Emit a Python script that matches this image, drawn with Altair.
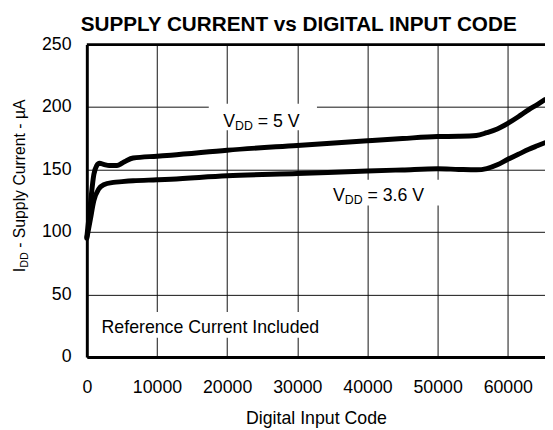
import altair as alt
import pandas as pd

FONT = "Liberation Sans"

# ---- data ----
codes_5v = [0, 500, 1000, 1400, 1800, 2500, 3200, 4300, 5000, 5700, 6600, 10000, 12000,
            20000, 30000, 40000, 45000, 50000, 53000, 55500, 57000, 58500, 60000,
            61500, 63000, 64200, 65300]
current_5v = [96, 122, 146, 153, 155, 154, 153.3, 153.2, 155, 157.3, 159.2, 160.7, 161.5,
              165.5, 169.3, 173, 174.8, 176.4, 176.6, 177.2, 179.5, 182.5, 187,
              192.3, 198, 202, 206]

codes_36v = [0, 500, 1000, 1700, 2400, 3800, 5000, 6600, 10000, 12000, 20000, 30000,
             40000, 45000, 50000, 53000, 55500, 57000, 58500, 60000, 61500, 63000,
             64200, 65300]
current_36v = [95, 110, 125, 134.4, 137.8, 139.7, 140.3, 141, 141.8, 142.3, 145, 146.8,
               148.8, 149.7, 150.6, 150.1, 149.8, 150.8, 153.8, 158.2, 162.2, 166.2,
               169, 171.5]

x_ticks = [0, 10000, 20000, 30000, 40000, 50000, 60000]
y_ticks = [0, 50, 100, 150, 200, 250]

title_text = "SUPPLY CURRENT vs DIGITAL INPUT CODE"
x_title = "Digital Input Code"
y_title_main = "I"
y_title_sub = "DD"
y_title_rest = "- Supply Current - µA"

# annotation boxes (data coordinates)
box_x1 = [17380, 34200, 980]
box_x2 = [32800, 50300, 35300]
box_y1 = [181.4, 121.3, 15.4]
box_y2 = [202.6, 141.8, 35.9]

# annotation texts (data coordinates of text start / baseline)
lab5_x, lab5_y = 19440, 184.4
lab36_x, lab36_y = 35080, 125.2
ref_x, ref_y = 2100, 19.4
lab5_rest = "= 5 V"
lab36_rest = "= 3.6 V"
ref_text = "Reference Current Included"

# ---- build ----
lines_df = pd.concat([
    pd.DataFrame({"x": codes_5v, "y": current_5v, "series": "VDD = 5 V"}),
    pd.DataFrame({"x": codes_36v, "y": current_36v, "series": "VDD = 3.6 V"}),
])
boxes_df = pd.DataFrame({"x": box_x1, "x2": box_x2, "y": box_y1, "y2": box_y2})

xscale = alt.Scale(domain=[0, 65300], nice=False, zero=False)
yscale = alt.Scale(domain=[0, 250], nice=False, zero=False)

xaxis = alt.Axis(values=x_ticks, grid=True, ticks=False, labelPadding=22,
                 labelFontSize=18, labelFont=FONT, labelColor="black",
                 labelFlush=False, labelOverlap=False, format="d",
                 domainColor="black", domainWidth=3,
                 gridColor="#111111", gridWidth=1,
                 title=x_title, titleFont=FONT, titleFontSize=18,
                 titleFontWeight="normal", titleColor="black",
                 titleBaseline="alphabetic", titleY=68)
yaxis = alt.Axis(values=y_ticks, grid=True, ticks=False, labelPadding=16,
                 labelFontSize=18, labelFont=FONT, labelColor="black",
                 labelFlush=False, labelOverlap=False,
                 domainColor="black", domainWidth=3,
                 gridColor="#111111", gridWidth=1, title=None)

X = alt.X("x:Q", scale=xscale, axis=xaxis)
Y = alt.Y("y:Q", scale=yscale, axis=yaxis)

boxes = alt.Chart(boxes_df).mark_rect(color="white").encode(
    x=X, x2="x2:Q", y=Y, y2="y2:Q")

lines = alt.Chart(lines_df).mark_line(
    color="black", strokeWidth=5, interpolate="monotone",
    strokeJoin="round", strokeCap="round").encode(
    x=X, y=Y, detail="series:N")

top_border = alt.Chart(pd.DataFrame({"y": [250]})).mark_rule(
    color="black", strokeWidth=3).encode(y=Y)


def txt(x, y, s, size, dx=0.0, dy=0.0):
    return alt.Chart(pd.DataFrame({"x": [x], "y": [y]})).mark_text(
        text=s, align="left", baseline="alphabetic", font=FONT,
        fontSize=size, dx=dx, dy=dy, color="black").encode(x=X, y=Y)


labels = [
    txt(lab5_x, lab5_y, "V", 18),
    txt(lab5_x, lab5_y, "DD", 12.5, dx=12.0, dy=3.5),
    txt(lab5_x, lab5_y, lab5_rest, 18, dx=35.0),
    txt(lab36_x, lab36_y, "V", 18),
    txt(lab36_x, lab36_y, "DD", 12.5, dx=12.0, dy=3.5),
    txt(lab36_x, lab36_y, lab36_rest, 18, dx=35.0),
    txt(ref_x, ref_y, ref_text, 18),
]

one = pd.DataFrame({"k": [0]})
title_mark = alt.Chart(one).mark_text(
    text=title_text, align="center", baseline="alphabetic", font=FONT,
    fontSize=21, fontWeight="bold", color="black").encode(
    x=alt.value(215), y=alt.value(-13.7))

ytitle = [
    alt.Chart(one).mark_text(text=y_title_main, angle=270, align="left",
                             baseline="alphabetic", font=FONT, fontSize=16,
                             color="black").encode(x=alt.value(-63), y=alt.value(231)),
    alt.Chart(one).mark_text(text=y_title_sub, angle=270, align="left",
                             baseline="alphabetic", font=FONT, fontSize=11,
                             color="black").encode(x=alt.value(-60), y=alt.value(226.5)),
    alt.Chart(one).mark_text(text=y_title_rest, angle=270, align="left",
                             baseline="alphabetic", font=FONT, fontSize=16,
                             color="black").encode(x=alt.value(-63), y=alt.value(206.2)),
]

chart = alt.layer(boxes, lines, top_border, *labels, title_mark, *ytitle).properties(
    width=465, height=317,
    padding={"left": 80, "top": 34, "right": 0, "bottom": 72},
    autosize=alt.AutoSizeParams(type="none"),
    background="white",
).configure_view(stroke=None)

chart.save("out.html", embed_options={"renderer": "svg", "actions": False})
